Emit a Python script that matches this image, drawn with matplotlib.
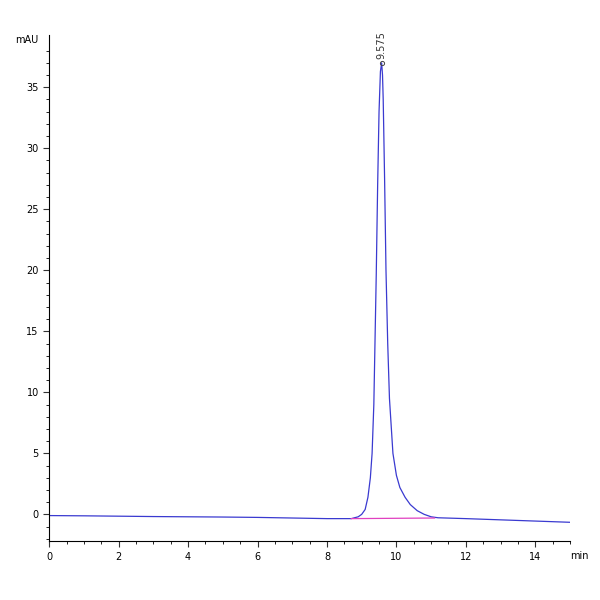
import matplotlib
matplotlib.use("Agg")
import matplotlib.pyplot as plt
import numpy as np

time = [0, 1, 2, 3, 4, 5, 6, 7, 8, 8.7, 8.9, 9.0, 9.1, 9.18, 9.25, 9.3, 9.35, 9.42, 9.46, 9.5, 9.54, 9.575,
        9.6, 9.62, 9.66, 9.70, 9.75, 9.8, 9.9, 10.0, 10.1, 10.25, 10.4, 10.6, 10.8, 11.0, 11.2,
        12, 13, 14, 15]
signal = [-0.1, -0.12, -0.15, -0.18, -0.2, -0.22, -0.25, -0.3, -0.35, -0.35, -0.2, 0.0, 0.4, 1.4, 3.0, 5.0, 9.0, 19.7, 27, 33, 36.3, 37,
          36, 34, 27.5, 20, 14, 9.5, 5.0, 3.2, 2.2, 1.4, 0.8, 0.3, 0.0, -0.2, -0.28,
          -0.35, -0.45, -0.55, -0.65]
peak_rt = 9.575
baseline_t = [8.7, 11.1]
baseline_y = [-0.35, -0.3]

fig = plt.figure(figsize=(6, 6), dpi=100)
ax = fig.add_axes([0.082, 0.098, 0.868, 0.844])
ax.plot(time, signal, color="#3a3ad0", lw=0.9)
ax.plot(baseline_t, baseline_y, color="#e040c0", lw=0.9)
ax.plot([peak_rt], [37], marker="o", ms=3, mfc="none", mec="#444", mew=0.7)
ax.text(peak_rt, 37.3, "9.575", rotation=90, ha="center", va="bottom", fontsize=7, color="#333")

ax.set_xlim(0, 15)
ax.set_ylim(-2.2, 39.3)
ax.set_xticks(range(0, 15, 2))
ax.set_xticks(np.arange(0, 15.01, 0.5), minor=True)
ax.set_yticks(range(0, 36, 5))
ax.set_yticks(np.arange(-2, 39, 1), minor=True)
for s in ["top", "right"]:
    ax.spines[s].set_visible(False)
ax.tick_params(labelsize=7, length=4, color="#333")
ax.tick_params(which="minor", length=2)
ax.text(-0.02, 1.0, "mAU", transform=ax.transAxes, ha="right", va="top", fontsize=7)
ax.text(1.0, -0.02, "min", transform=ax.transAxes, ha="left", va="top", fontsize=7)
fig.savefig("out.png")
